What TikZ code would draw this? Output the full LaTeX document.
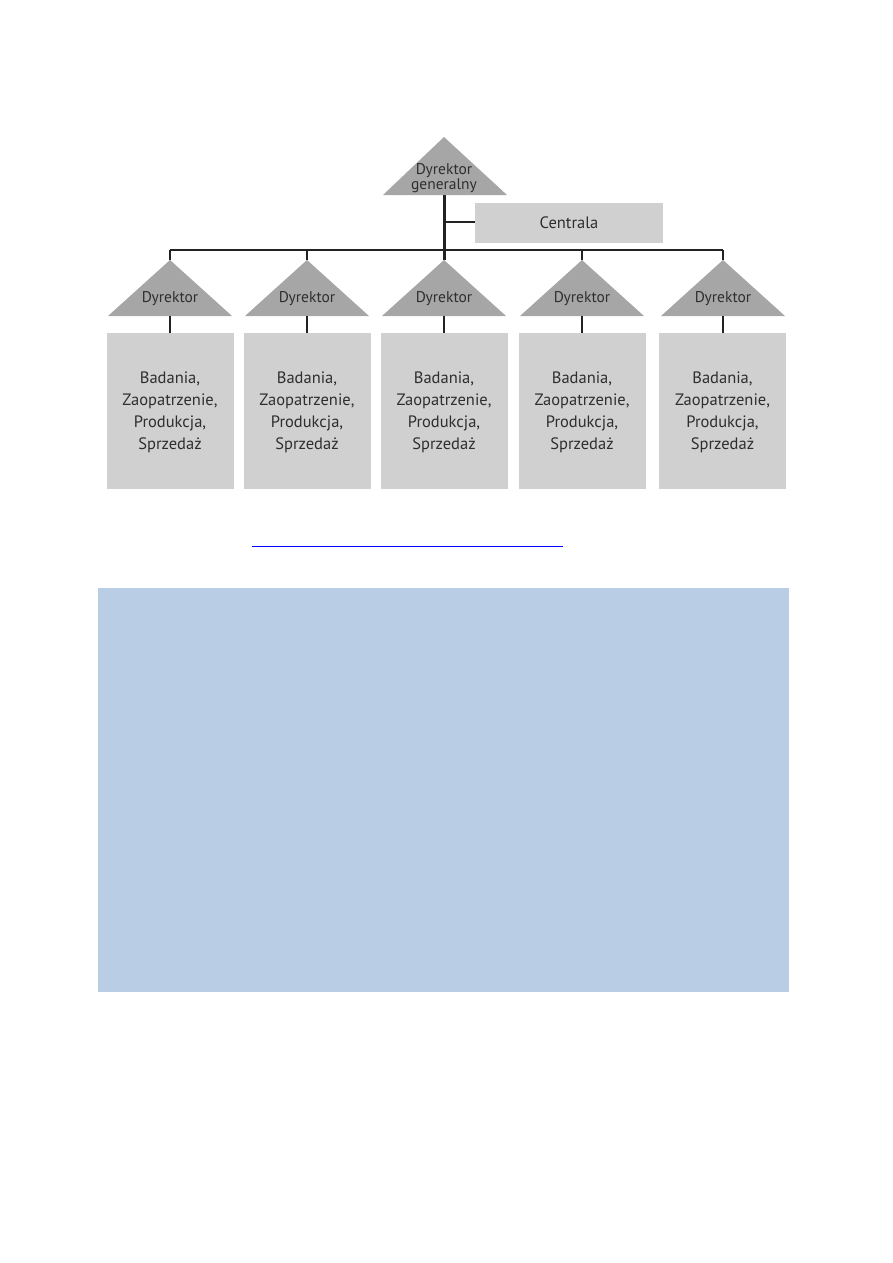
\documentclass[tikz,border=0pt]{standalone}
\usepackage{fontspec}
\setmainfont{PT Sans}
\definecolor{trigray}{HTML}{A6A6A6}
\definecolor{boxgray}{HTML}{D0D0D0}
\definecolor{txtgray}{HTML}{2E2E2E}
\definecolor{linecol}{HTML}{222222}
\definecolor{bluebg}{HTML}{B9CDE5}
\definecolor{linkblue}{HTML}{0000FF}
\begin{document}
\begin{tikzpicture}[x=1pt,y=-1pt,
  tri/.style={fill=trigray},
  deptbox/.style={fill=boxgray,draw=none,minimum width=127pt,minimum height=156pt,inner sep=0pt},
  lbl/.style={text=txtgray,font=\fontsize{16.5}{22}\selectfont,align=center},
  trilbl/.style={text=txtgray,font=\fontsize{15.5}{15}\selectfont,align=center,inner sep=0pt},
  conn/.style={draw=linecol,line width=1.5pt},
  trunk/.style={draw=linecol,line width=3pt}]
\useasboundingbox (0,0) rectangle (893,1263);
% general director
\coordinate (gA) at (444,137);
\coordinate (gB) at (444,195);
\fill[tri] (383,195) -- (gA) -- (507,195) -- cycle;
\node[trilbl] (gd) at (444,178) {Dyrektor\\generalny};
% Centrala
\node[fill=boxgray,minimum width=188pt,minimum height=40pt,inner sep=0pt,lbl] (centrala) at (569,223) {Centrala};
% directors and boxes
\foreach \i/\x/\bx in {1/170/170,2/307/307,3/444/444,4/582/582,5/723/722.5}{
  \coordinate (a\i) at (\x,260);
  \coordinate (b\i) at (\x,316);
  \fill[tri] (\x-62,316) -- (a\i) -- (\x+62,316) -- cycle;
  \node[trilbl] (d\i) at (\x,299) {Dyrektor};
  \node[deptbox] (box\i) at (\bx,411) {};
  \node[lbl] (t\i) at (\bx,412) {Badania,\\Zaopatrzenie,\\Produkcja,\\Sprzedaż};
  \draw[conn,line width=2pt] (b\i) -- (b\i |- box\i.north);
}
% bus
\coordinate (bus1) at (170,250);
\coordinate (bus5) at (723,250);
\draw[conn] (bus1) -- (bus5);
\foreach \i in {1,2,4,5}{ \draw[conn] (a\i |- bus1) -- (a\i); }
\draw[trunk] (gB) -- (a3);
\coordinate (cj) at (444,222);
\draw[conn,line width=2.5pt] (cj) -- (cj -| centrala.west);
% link underline
\coordinate (l1) at (252,546);
\coordinate (l2) at (563,546);
\draw[linkblue,line width=1pt] (l1) -- (l2);
% blue area
\fill[bluebg] (98,588) rectangle (789,992);
\end{tikzpicture}
\end{document}
